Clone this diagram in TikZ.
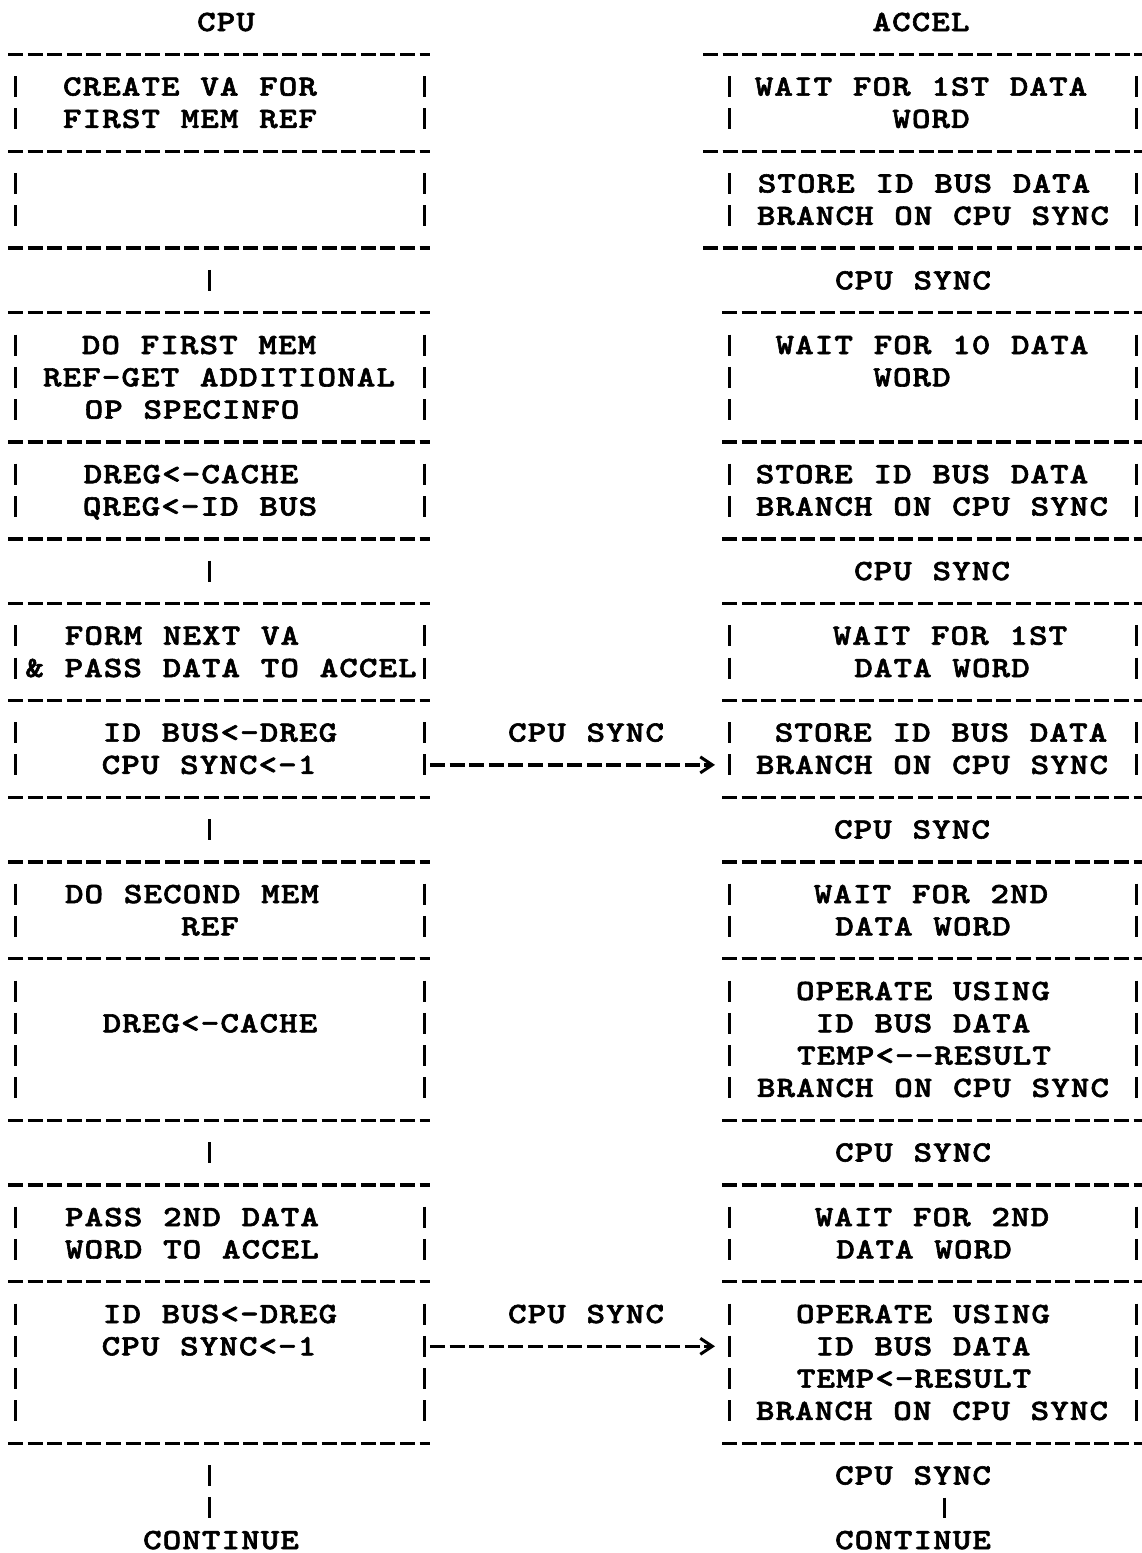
\documentclass[tikz,border=0pt]{standalone}
\usepackage{fontspec}
\newfontfamily\typewr{lmmonolt10-bold.otf}[FakeStretch=1.2,FakeBold=2,LetterSpace=3.7,WordSpace=1.058,Ligatures=TeXOff]
\usetikzlibrary{arrows.meta, fit, calc}

\begin{document}
\begin{tikzpicture}[x=0.5pt, y=-16.15pt,
	txt/.style={font=\typewr\fontsize{14.7pt}{16pt}\selectfont, inner sep=0pt, text height=9pt, text depth=0pt},
	stage/.style={inner sep=0pt, outer sep=0pt, fit={#1}},
	dashline/.style={line width=1.7pt, dash pattern=on 7.5pt off 2.3pt},
	sidebar/.style={line width=1.5pt, dash pattern=on 10.5pt off 5.65pt, shorten <=10.9pt, shorten >=10.9pt},
	link/.style={line width=1.5pt, shorten <=10.9pt, shorten >=10.9pt},
	tail/.style={line width=1.5pt, shorten <=6.4pt, shorten >=6.4pt},
	syncarrow/.style={dashline, -{Straight Barb[length=6pt,width=8pt,line width=1.5pt]}, shorten <=3pt, shorten >=7pt}]
	\useasboundingbox (0,-0.6811) rectangle (1141,47.3994);

	% cpu column: boxes between dashed rows
	\foreach \name/\top/\bot in {cpu1/1/4, cpu2/4/7, cpu3/9/13, cpu4/13/16, cpu5/18/21,
		cpu6/21/24, cpu7/26/29, cpu8/29/34, cpu9/36/39, cpu10/39/44} {
		\node[stage={(15,\top) (424,\bot)}] (\name) {};
		\draw[dashline] ([xshift=-3.5pt]\name.north west) -- ([xshift=3pt]\name.north east);
		\draw[dashline] ([xshift=-3.5pt]\name.south west) -- ([xshift=3pt]\name.south east);
		\draw[sidebar] (\name.north west) -- (\name.south west);
		\draw[sidebar] (\name.north east) -- (\name.south east);
	}
	% accel column
	\foreach \name/\top/\bot/\ext in {acc1/1/4/13, acc2/4/7/13, acc3/9/13/3.5, acc4/13/16/3.5,
		acc5/18/21/3.5, acc6/21/24/3.5, acc7/26/29/3.5, acc8/29/34/3.5, acc9/36/39/3.5, acc10/39/44/3.5} {
		\node[stage={(729,\top) (1136,\bot)}] (\name) {};
		\draw[dashline] ([xshift=-\ext pt]\name.north west) -- ([xshift=3pt]\name.north east);
		\draw[dashline] ([xshift=-\ext pt]\name.south west) -- ([xshift=3pt]\name.south east);
		\draw[sidebar] (\name.north west) -- (\name.south west);
		\draw[sidebar] (\name.north east) -- (\name.south east);
	}

	\node[txt] (cputitle) at (226,0) {CPU};
	\node[txt] (acctitle) at (921,0) {ACCEL};

	\node[txt] (cpu1a) at (190,2) {CREATE VA FOR};
	\node[txt] (cpu1b) at (190,3) {FIRST MEM REF};
	\node[txt] (cpu3a) at (199,10) {DO FIRST MEM};
	\node[txt] (cpu3b) at (219,11) {REF-GET ADDITIONAL};
	\node[txt] (cpu3c) at (192,12) {OP SPECINFO};
	\node[txt] (cpu4a) at (191,14) {DREG<-CACHE};
	\node[txt] (cpu4b) at (200,15) {QREG<-ID BUS};
	\node[txt] (cpu5a) at (182,19) {FORM NEXT VA};
	\node[txt] (cpu5b) at (221,20) {\& PASS DATA TO ACCEL};
	\node[txt] (cpu6a) at (220,22) {ID BUS<-DREG};
	\node[txt] (cpu6b) at (209,23) {CPU SYNC<-1};
	\node[txt] (cpu7a) at (192,27) {DO SECOND MEM};
	\node[txt] (cpu7b) at (210,28) {REF};
	\node[txt] (cpu8a) at (210,31) {DREG<-CACHE};
	\node[txt] (cpu9a) at (192,37) {PASS 2ND DATA};
	\node[txt] (cpu9b) at (192,38) {WORD TO ACCEL};
	\node[txt] (cpu10a) at (220,40) {ID BUS<-DREG};
	\node[txt] (cpu10b) at (209,41) {CPU SYNC<-1};
	\node[txt] (cpucont) at (221,47) {CONTINUE};

	\node[txt] (acc1a) at (921,2) {WAIT FOR 1ST DATA};
	\node[txt] (acc1b) at (931,3) {WORD};
	\node[txt] (acc2a) at (924,5) {STORE ID BUS DATA};
	\node[txt] (acc2b) at (933,6) {BRANCH ON CPU SYNC};
	\node[txt] (accsync1) at (913,8) {CPU SYNC};
	\node[txt] (acc3a) at (932,10) {WAIT FOR 10 DATA};
	\node[txt] (acc3b) at (912,11) {WORD};
	\node[txt] (acc4a) at (922,14) {STORE ID BUS DATA};
	\node[txt] (acc4b) at (932,15) {BRANCH ON CPU SYNC};
	\node[txt] (accsync2) at (932,17) {CPU SYNC};
	\node[txt] (acc5a) at (950,19) {WAIT FOR 1ST};
	\node[txt] (acc5b) at (942,20) {DATA WORD};
	\node[txt] (acc6a) at (941,22) {STORE ID BUS DATA};
	\node[txt] (acc6b) at (932,23) {BRANCH ON CPU SYNC};
	\node[txt] (accsync3) at (912,25) {CPU SYNC};
	\node[txt] (acc7a) at (931,27) {WAIT FOR 2ND};
	\node[txt] (acc7b) at (923,28) {DATA WORD};
	\node[txt] (acc8a) at (923,30) {OPERATE USING};
	\node[txt] (acc8b) at (923,31) {ID BUS DATA};
	\node[txt] (acc8c) at (924,32) {TEMP<--RESULT};
	\node[txt] (acc8d) at (933,33) {BRANCH ON CPU SYNC};
	\node[txt] (accsync4) at (913,35) {CPU SYNC};
	\node[txt] (acc9a) at (932,37) {WAIT FOR 2ND};
	\node[txt] (acc9b) at (924,38) {DATA WORD};
	\node[txt] (acc10a) at (923,40) {OPERATE USING};
	\node[txt] (acc10b) at (923,41) {ID BUS DATA};
	\node[txt] (acc10c) at (914,42) {TEMP<-RESULT};
	\node[txt] (acc10d) at (932,43) {BRANCH ON CPU SYNC};
	\node[txt] (accsync5) at (913,45) {CPU SYNC};
	\node[txt] (acccont) at (913,47) {CONTINUE};

	\node[txt] (syncmid1) at (586,22) {CPU SYNC};
	\node[txt] (syncmid2) at (586,40) {CPU SYNC};

	% flow between cpu steps
	\draw[link] ([xshift=-5.25pt]cpu2.south) -- ([xshift=-5.25pt]cpu3.north);
	\draw[link] ([xshift=-5.25pt]cpu4.south) -- ([xshift=-5.25pt]cpu5.north);
	\draw[link] ([xshift=-5.25pt]cpu6.south) -- ([xshift=-5.25pt]cpu7.north);
	\draw[link] ([xshift=-5.25pt]cpu8.south) -- ([xshift=-5.25pt]cpu9.north);
	\draw[sidebar, shorten >=6.4pt] ([xshift=-5.25pt]cpu10.south) -- ([xshift=-5.25pt]cpu10.south |- cpucont.north);
	\draw[tail] ([xshift=15.5pt]accsync5.south) -- ([xshift=15.5pt]acccont.north);

	% cpu sync signals
	\draw[syncarrow] ([yshift=-8.075pt]cpu6.east) -- ([yshift=-8.075pt]acc6.west);
	\draw[syncarrow] ([yshift=8.075pt]cpu10.east) -- ([yshift=8.075pt]acc10.west);
\end{tikzpicture}
\end{document}
